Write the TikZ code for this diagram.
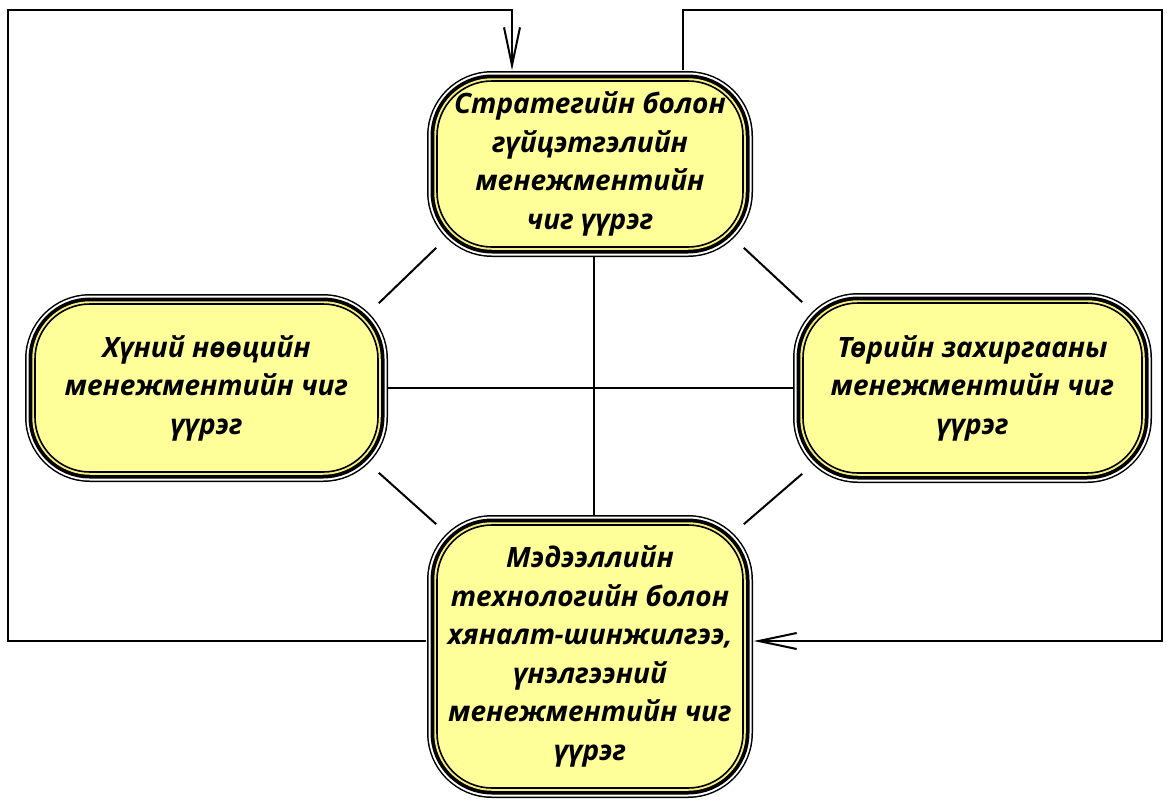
\documentclass[tikz,border=0pt]{standalone}
\usepackage{fontspec}
\setmainfont{Open Sans}
\usetikzlibrary{arrows.meta,backgrounds}
\definecolor{boxyellow}{HTML}{FFFF99}
\definecolor{ringyellow}{HTML}{F7EE80}
\begin{document}
\begin{tikzpicture}[x=1pt,y=-1pt,
  role/.style={rectangle, rounded corners=55pt, fill=boxyellow, draw=black, line width=1.6pt,
    preaction={draw=black,line width=20pt},
    preaction={draw=white,line width=17pt},
    preaction={draw=black,line width=13pt},
    preaction={draw=ringyellow,line width=5.5pt},
    align=center, inner sep=0pt,
    font=\fontsize{28}{38.5}\selectfont\bfseries\itshape},
  link/.style={line width=2pt, draw=black},
  loop/.style={line width=2pt, draw=black, -{Straight Barb[length=38pt,width=16pt]}}]
\useasboundingbox (0,0) rectangle (1167,803);

\node[role, minimum width=306pt, minimum height=166pt] (top) at (590,164)
  {Стратегийн болон\\гүйцэтгэлийн\\менежментийн\\чиг үүрэг};
\node[role, minimum width=343pt, minimum height=168pt] (left) at (206.5,388)
  {Хүний нөөцийн\\менежментийн чиг\\үүрэг};
\node[role, minimum width=339pt, minimum height=170pt] (right) at (972.5,388)
  {Төрийн захиргааны\\менежментийн чиг\\үүрэг};
\node[role, minimum width=306pt, minimum height=263pt] (bottom) at (590,656.5)
  {Мэдээллийн\\технологийн болон\\хяналт-шинжилгээ,\\үнэлгээний\\менежментийн чиг\\үүрэг};

\begin{scope}[on background layer]
  \draw[link] (top.south west) -- (left.north east);
  \draw[link] (top.south east) -- (right.north west);
  \draw[link] (left.south east) -- (bottom.north west);
  \draw[link] (right.south west) -- (bottom.north east);
  \draw[link] (left.center) -- (right.center);
  \draw[link] ([xshift=4pt]top.center) -- ([xshift=4pt]bottom.center);
\end{scope}

\draw[loop] ([xshift=-10pt,yshift=15.5pt]bottom.west) -| (8,10) -| ([xshift=-78pt,yshift=10pt]top.north);
\draw[loop] ([xshift=93pt,yshift=10pt]top.north) |- (1162,10) |- ([xshift=10pt,yshift=15.5pt]bottom.east);
\end{tikzpicture}
\end{document}
